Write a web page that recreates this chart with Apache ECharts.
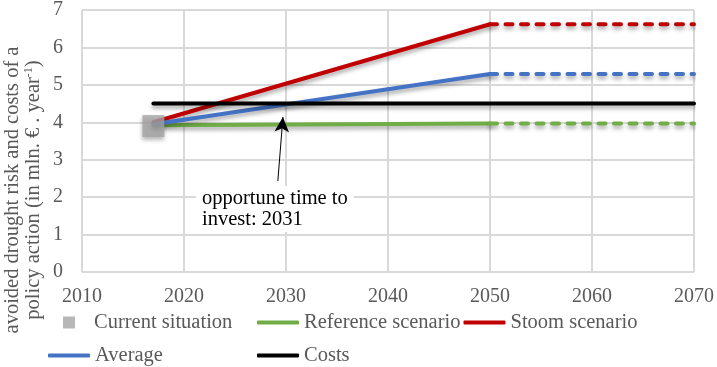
<!DOCTYPE html>
<html>
<head>
<meta charset="utf-8">
<script src="https://cdn.jsdelivr.net/npm/echarts@6/dist/echarts.min.js"></script>
<style>
  html, body { margin: 0; padding: 0; background: #fff; }
  #chart { width: 717px; height: 367px; }
</style>
</head>
<body>
<div id="chart"></div>
<script>
// data
var currentYear = [2017];
var currentValue = [3.9];
var scenarioYears = [2017, 2050, 2070];
var reference = [3.92, 3.97, 3.97];
var stoom = [4.0, 6.62, 6.62];
var average = [3.95, 5.29, 5.29];
var costYears = [2017, 2070];
var costs = [4.5, 4.5];
var arrowFrom = [2029.2, 2.43];
var arrowTo = [2029.7, 4.14];

var font = 'Liberation Serif';
var grey = '#595959';
var shadow = { shadowColor: 'rgba(0,0,0,0.35)', shadowBlur: 4, shadowOffsetY: 3 };

function pts(xs, ys, a, b) {
	var out = [];
	for (var i = a; i <= b; i++) out.push([xs[i], ys[i]]);
	return out;
}

// solid part up to 2050, dashed part after it
function scenario(name, color, ys) {
	var base = Object.assign({ color: color, width: 4, cap: 'round' }, shadow);
	return [
		{
			name: name, type: 'line', data: pts(scenarioYears, ys, 0, 1),
			symbol: 'none', color: color, lineStyle: base, z: 3
		},
		{
			name: name, type: 'line', data: pts(scenarioYears, ys, 1, 2),
			symbol: 'none', color: color,
			lineStyle: Object.assign({}, base, { type: [7, 8.5] }), z: 3
		}
	];
}

var legendText = { fontFamily: font, fontSize: 20.5, color: grey };
var lineLegend = { icon: 'roundRect', itemWidth: 42, itemHeight: 4, padding: 0, textStyle: legendText };

var myChart = echarts.init(document.getElementById('chart'));
var option = {
	animation: false,
	grid: { left: 82, right: 21, top: 7, bottom: 95 },
	xAxis: {
		type: 'value', min: 2010, max: 2070, interval: 10,
		axisLine: { show: false },
		axisTick: { show: false },
		axisLabel: { fontFamily: font, fontSize: 20, color: grey, margin: 15, formatter: function (v) { return String(v); } },
		splitLine: { lineStyle: { color: '#d9d9d9', width: 2 } }
	},
	yAxis: {
		type: 'value', min: 0, max: 7, interval: 1,
		axisLine: { show: false },
		axisTick: { show: false },
		axisLabel: { fontFamily: font, fontSize: 20, color: grey, margin: 19 },
		splitLine: { lineStyle: { color: '#d9d9d9', width: 2 } }
	},
	legend: [
		{
			data: [{ name: 'Current situation', icon: 'rect' }],
			left: 63, top: 312, itemWidth: 12, itemHeight: 12, padding: 0,
			textStyle: Object.assign({ padding: [0, 0, 0, 14] }, legendText)
		},
		Object.assign({ data: ['Reference scenario', 'Stoom scenario'], left: 257, top: 312, itemGap: 3 }, lineLegend),
		Object.assign({ data: ['Average'], left: 48, top: 345 }, lineLegend),
		Object.assign({ data: ['Costs'], left: 257, top: 345 }, lineLegend)
	],
	series: [].concat(
		scenario('Reference scenario', '#70ad47', reference),
		scenario('Stoom scenario', '#c00000', stoom),
		scenario('Average', '#4472c4', average),
		[{
			name: 'Costs', type: 'line', data: pts(costYears, costs, 0, 1),
			symbol: 'none', color: '#000',
			lineStyle: Object.assign({ color: '#000', width: 4, cap: 'round' }, shadow), z: 4,
			markLine: {
				silent: true, symbol: ['none', 'arrow'], symbolSize: [11, 15],
				label: { show: false },
				lineStyle: { color: '#000', width: 1, type: 'solid', shadowBlur: 0, shadowOffsetY: 0 },
				data: [[{ coord: arrowFrom }, { coord: arrowTo }]]
			}
		},
		{
			name: 'Current situation', type: 'scatter',
			data: pts(currentYear, currentValue, 0, 0),
			symbol: 'rect', symbolSize: 22, color: '#a5a5a5',
			itemStyle: Object.assign({ color: '#a5a5a5' }, shadow), z: 5
		}]
	),
	graphic: [
		{
			type: 'text', left: 196, top: 186, z: 10,
			style: {
				text: 'opportune time to\ninvest: 2031', font: '20.5px "Liberation Serif"', lineHeight: 21, fill: '#000',
				backgroundColor: '#fff', padding: [2, 6, 2, 6]
			}
		},
		{
			type: 'text', x: 23, y: 190, rotation: Math.PI / 2,
			style: {
				text: '{a|avoided drought risk and costs of a}\n{a|policy action (in mln. € . year}{s|-1}{a|)}',
				align: 'center', verticalAlign: 'middle',
				rich: {
					a: { fontFamily: font, fontSize: 20.5, fill: grey, lineHeight: 21, verticalAlign: 'bottom' },
					s: { fontFamily: font, fontSize: 12, fill: grey, lineHeight: 21, verticalAlign: 'top' }
				}
			}
		}
	]
};
myChart.setOption(option);
</script>
</body>
</html>
